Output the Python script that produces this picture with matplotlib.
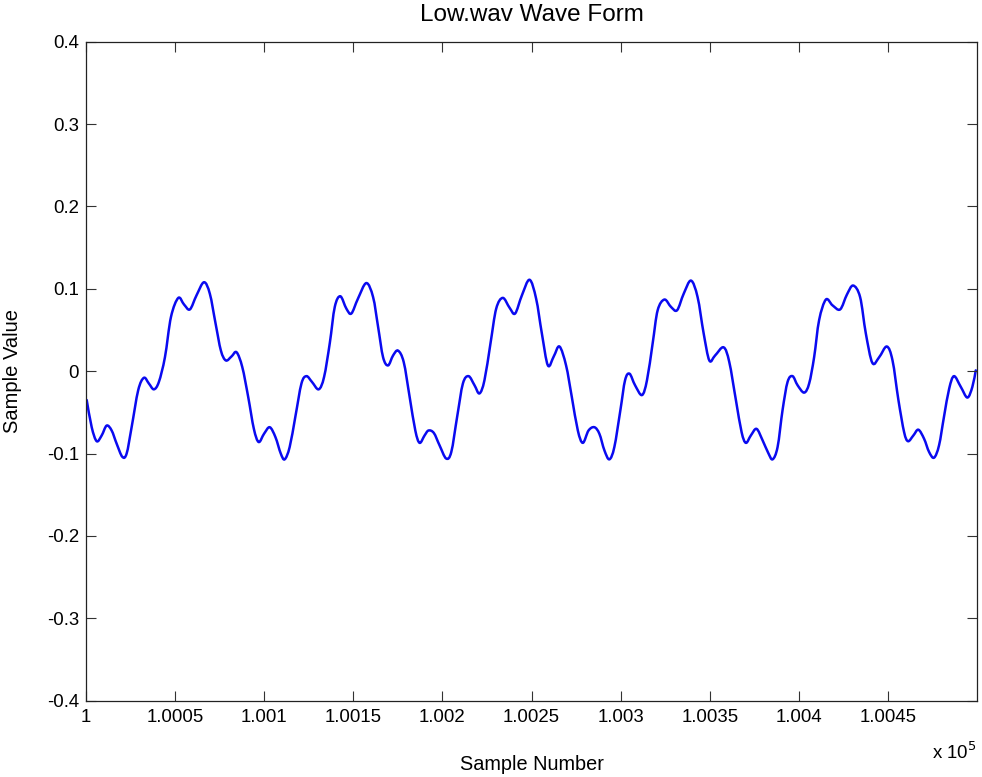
import matplotlib
matplotlib.use("Agg")
import matplotlib.pyplot as plt
from matplotlib.path import Path
from matplotlib.patches import PathPatch
import numpy as np

plt.rcParams['font.family'] = ['Liberation Sans', 'DejaVu Sans']

# sample offsets (from 100000) and sample values
sample_offset = [
    0.4, 3.2, 6, 8.8, 11.6, 14.4, 17.2, 20.4, 22.8, 25.6, 29.3, 32.5, 35.3, 38.1, 40.9,
    44.3, 47.7, 51.8, 55, 58.3, 62, 66.2, 69.5, 72.7, 75.7, 78.5, 81.7, 84.5, 87.7, 91,
    94.2, 96.9, 99.9, 103.1, 106.3, 109.3, 111.5, 114.3, 117.5, 120.9, 123.7, 126.8,
    130.6, 133.6, 136.8, 139.6, 142.7, 146.1, 148.9, 152.6, 157.3, 161.1, 163.9, 166.7,
    169.5, 172.3, 175.1, 178.3, 181.6, 184.8, 187.2, 190, 192.2, 195.2, 198.4, 202.1,
    205, 208.3, 211.5, 214.7, 218, 220.8, 223.6, 227, 230.2, 233.9, 237.7, 240.8, 244.6,
    248.9, 252.6, 255.8, 259.2, 262.5, 265.7, 269.4, 272.6, 276, 278.8, 282, 285.3,
    288.1, 290.9, 293.7, 296.5, 299.9, 302.5, 305, 308.1, 312, 314.8, 318, 320.8, 324.6,
    328.3, 331.7, 335.4, 339.5, 343.2, 346.6, 349.8, 353, 357.8, 361, 364.7, 367.9,
    370.3, 373.1, 376.3, 379.7, 382.8, 385.3, 388.1, 390.9, 393.7, 396.5, 399.3, 403,
    405.8, 408.6, 411.4, 415.2, 418.9, 423.2, 427, 430.5, 434.4, 437.6, 441.3, 445.1,
    449.4, 452.6, 455.9, 459.1, 461.3, 464.3, 467.1, 470.3, 473.1, 475.9, 478.7, 481.5,
    484.4, 487.1, 490.9, 494.6, 497.4, 499.3,
]
sample_value = [
    -0.035, -0.068, -0.085, -0.078, -0.066, -0.072, -0.088, -0.104, -0.100, -0.068,
    -0.023, -0.008, -0.015, -0.022, -0.013, 0.017, 0.066, 0.089, 0.081, 0.075, 0.092,
    0.108, 0.094, 0.058, 0.025, 0.013, 0.018, 0.023, 0.005, -0.031, -0.070, -0.086,
    -0.076, -0.068, -0.080, -0.100, -0.107, -0.092, -0.055, -0.015, -0.006, -0.013,
    -0.022, -0.007, 0.034, 0.078, 0.091, 0.076, 0.070, 0.088, 0.107, 0.090, 0.054,
    0.017, 0.007, 0.019, 0.025, 0.011, -0.031, -0.072, -0.087, -0.078, -0.072, -0.075,
    -0.090, -0.106, -0.098, -0.055, -0.015, -0.006, -0.017, -0.027, -0.011, 0.034,
    0.076, 0.089, 0.077, 0.070, 0.092, 0.111, 0.088, 0.046, 0.007, 0.018, 0.030, 0.007,
    -0.031, -0.072, -0.087, -0.072, -0.068, -0.076, -0.096, -0.107, -0.092, -0.047,
    -0.011, -0.003, -0.017, -0.029, -0.011, 0.034, 0.074, 0.087, 0.078, 0.074, 0.094,
    0.110, 0.090, 0.046, 0.013, 0.019, 0.029, 0.011, -0.035, -0.074, -0.087, -0.078,
    -0.070, -0.084, -0.099, -0.107, -0.092, -0.047, -0.013, -0.006, -0.017, -0.026,
    -0.015, 0.017, 0.062, 0.087, 0.080, 0.075, 0.093, 0.104, 0.090, 0.046, 0.010,
    0.017, 0.030, 0.013, -0.035, -0.074, -0.085, -0.078, -0.071, -0.082, -0.098,
    -0.105, -0.090, -0.055, -0.021, -0.006, -0.019, -0.032, -0.019, 0.001,
]
start_sample = 100000
x_ticks = [1, 1.0005, 1.001, 1.0015, 1.002, 1.0025, 1.003, 1.0035, 1.004, 1.0045]
y_ticks = [-0.4, -0.3, -0.2, -0.1, 0, 0.1, 0.2, 0.3, 0.4]

x = (start_sample + np.array(sample_offset)) / 1e5
y = np.array(sample_value)

fig = plt.figure(figsize=(9.82, 7.77), dpi=100)
ax = fig.add_axes([86 / 982, 1 - 700.7 / 777, (977 - 86) / 982, (700.7 - 41.7) / 777])

# smooth line through the read points (Catmull-Rom drawn as cubic Bezier segments)
P = np.column_stack([x, y])
Pext = np.vstack([P[0], P, P[-1]])
verts = [tuple(P[0])]
codes = [Path.MOVETO]
for i in range(len(P) - 1):
    p0, p1, p2, p3 = Pext[i], Pext[i + 1], Pext[i + 2], Pext[i + 3]
    c1 = p1 + (p2 - p0) / 6.0
    c2 = p2 - (p3 - p1) / 6.0
    verts += [tuple(c1), tuple(c2), tuple(p2)]
    codes += [Path.CURVE4] * 3
ax.add_patch(PathPatch(Path(verts, codes), facecolor='none', edgecolor='#0a0af0',
                       lw=1.8, joinstyle='round', capstyle='round'))

ax.set_xlim(1.0, 1.005)
ax.set_ylim(-0.4, 0.4)
ax.set_xticks(x_ticks)
ax.set_xticklabels(['%g' % t for t in x_ticks])
ax.set_yticks(y_ticks)
ax.set_yticklabels(['%g' % t for t in y_ticks])
ax.tick_params(direction='in', length=7, width=0.8, top=True, right=True,
               labelsize=13.4, pad=5, color='#333333')
ax.tick_params(axis='x', pad=6)
for s in ax.spines.values():
    s.set_linewidth(0.9)
    s.set_color('#222222')

ax.set_xlabel('Sample Number', fontsize=14.3)
ax.xaxis.set_label_coords(0.5, -0.083)
ax.set_ylabel('Sample Value', fontsize=14.5)
ax.yaxis.set_label_coords(-0.072, 0.5)
ax.text(1.0, -0.062, r'x 10$^{5}$', transform=ax.transAxes, ha='right', va='top',
        fontsize=13.4)
fig.text(531.5 / 982, 1 - 15 / 777, 'Low.wav Wave Form', ha='center', va='center',
         fontsize=17.5)

fig.savefig('out.png', dpi=100)
